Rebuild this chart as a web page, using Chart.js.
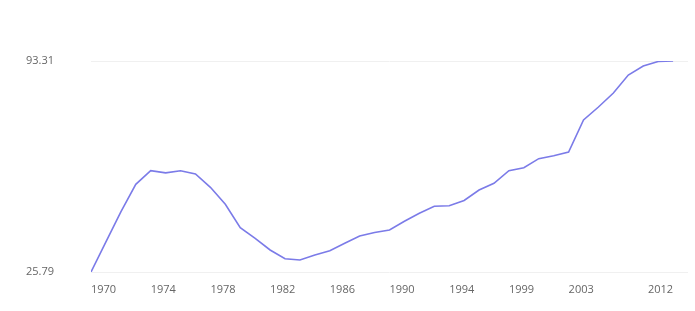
<!DOCTYPE html>
<html>
<head>
<meta charset="utf-8">
<script src="https://cdn.jsdelivr.net/npm/chart.js@4.4.1/dist/chart.umd.min.js"></script>
<style>
  html, body { margin: 0; padding: 0; background: #fff; }
  #wrap { width: 695px; height: 311px; position: relative; }
</style>
</head>
<body>
<div id="wrap"><canvas id="chart"></canvas></div>
<script>
// years present in the series (a few years are missing)
const years = [
  1970, 1971, 1972, 1973, 1974, 1975, 1976, 1977, 1978, 1979,
  1980, 1981, 1982, 1983, 1984, 1985, 1986, 1987, 1988, 1989,
  1990, 1991, 1992, 1993, 1994, 1995, 1996, 1998, 1999, 2000,
  2001, 2002, 2003, 2004, 2005, 2007, 2008, 2010, 2011, 2012
];
const values = [
  25.79, 35.4, 45.0, 53.85, 58.2, 57.5, 58.2, 57.15, 52.9, 47.45,
  39.97, 36.57, 32.83, 30.05, 29.63, 31.23, 32.61, 34.97, 37.31, 38.43,
  39.23, 42.01, 44.57, 46.81, 47.01, 48.67, 52.03, 54.17, 58.21, 59.17,
  62.05, 63.01, 64.19, 74.43, 78.59, 83.07, 88.83, 91.71, 93.15, 93.31
];
const xTickIdx = [0, 4, 8, 12, 16, 20, 24, 28, 32];
const xEndTickIdx = [39];
const yTicks = [25.79, 93.31];

Chart.defaults.font.family = "'Open Sans', sans-serif";
Chart.defaults.font.size = 11;
Chart.defaults.color = '#666';

const yearLabel = v => (years[v] !== undefined ? String(years[v]) : '');

new Chart(document.getElementById('chart'), {
  type: 'line',
  data: {
    datasets: [{
      data: values.map((v, i) => ({ x: i, y: v })),
      borderColor: '#7b7be8',
      borderWidth: 1.6,
      pointRadius: 0,
      tension: 0,
      fill: false
    }]
  },
  options: {
    responsive: true,
    maintainAspectRatio: false,
    animation: false,
    layout: { padding: { left: 26, right: 7, top: 61, bottom: 0 } },
    plugins: { legend: { display: false }, tooltip: { enabled: false } },
    scales: {
      x: {
        type: 'linear',
        min: 0,
        max: years.length,
        grid: { display: false, drawTicks: false },
        border: { display: false },
        afterBuildTicks: s => { s.ticks = xTickIdx.map(v => ({ value: v })); },
        afterFit: s => { s.height = 39; },
        ticks: { align: 'start', padding: 11, maxRotation: 0, autoSkip: false, callback: yearLabel }
      },
      x2: {
        axis: 'x',
        type: 'linear',
        position: { y: yTicks[0] },
        min: 0,
        max: years.length,
        grid: { display: false, drawTicks: false },
        border: { display: false },
        afterBuildTicks: s => { s.ticks = xEndTickIdx.map(v => ({ value: v })); },
        ticks: { align: 'end', padding: 11, maxRotation: 0, autoSkip: false, callback: yearLabel }
      },
      y: {
        min: yTicks[0],
        max: yTicks[1],
        grid: { color: '#f0f0f0', lineWidth: 1, drawTicks: false },
        border: { display: false },
        afterBuildTicks: s => { s.ticks = yTicks.map(v => ({ value: v })); },
        afterFit: s => { s.width = 65; },
        ticks: { crossAlign: 'far', padding: 8, callback: v => v.toFixed(2) }
      }
    }
  }
});
</script>
</body>
</html>
